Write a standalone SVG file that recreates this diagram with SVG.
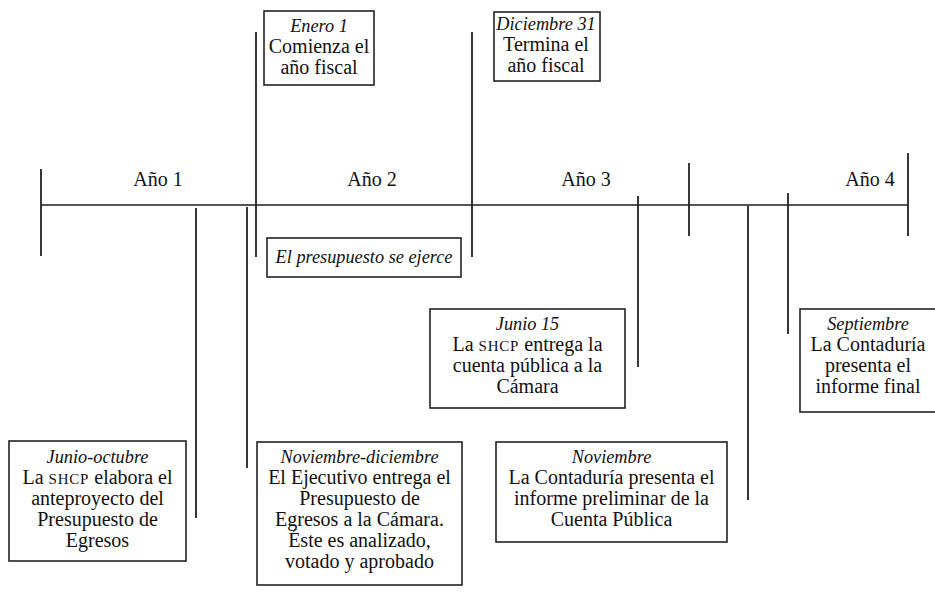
<svg xmlns="http://www.w3.org/2000/svg" width="935" height="598" viewBox="0 0 935 598">
<style>
text{font-family:"Liberation Serif","Times New Roman",serif;font-size:20px;fill:#111;text-anchor:middle}
.i{font-style:italic;font-size:18.3px}
.sc{font-size:15px;letter-spacing:0.8px}
rect{fill:#fff;stroke:#222;stroke-width:1.6}
line{stroke:#222;stroke-width:1.8}
</style>
<rect x="0" y="0" width="935" height="598" style="stroke:none;fill:#fff"/>
<g id="connectors">
<line x1="41" y1="205" x2="908" y2="205" style="stroke:#555;stroke-width:2"/>
<line x1="41" y1="169" x2="41" y2="256"/>
<line x1="196" y1="208" x2="196" y2="518"/>
<line x1="247" y1="207" x2="247" y2="468"/>
<line x1="256" y1="32" x2="256" y2="257"/>
<line x1="472" y1="32" x2="472" y2="257"/>
<line x1="638" y1="196" x2="638" y2="367"/>
<line x1="689" y1="163" x2="689" y2="236"/>
<line x1="748" y1="206" x2="748" y2="500"/>
<line x1="788" y1="193" x2="788" y2="334"/>
<line x1="908" y1="153" x2="908" y2="236"/>
</g>
<g id="labels">
<text x="158" y="186">Año 1</text>
<text x="372" y="186">Año 2</text>
<text x="586" y="186">Año 3</text>
<text x="870" y="186">Año 4</text>
</g>
<g id="enero">
<rect x="264" y="11" width="110" height="74"/>
<text x="319" y="32" class="i">Enero 1</text>
<text x="319" y="53">Comienza el</text>
<text x="319" y="74">año fiscal</text>
</g>
<g id="diciembre">
<rect x="494" y="12" width="106" height="69"/>
<text x="546" y="30" class="i">Diciembre 31</text>
<text x="546" y="51">Termina el</text>
<text x="546" y="72">año fiscal</text>
</g>
<g id="ejerce">
<rect x="267" y="238" width="194" height="39"/>
<text x="364" y="263" class="i">El presupuesto se ejerce</text>
</g>
<g id="junio-octubre">
<rect x="9" y="441" width="177" height="120"/>
<text x="97.5" y="463" class="i">Junio-octubre</text>
<text x="97.5" y="484">La <tspan class="sc">SHCP</tspan> elabora el</text>
<text x="97.5" y="505">anteproyecto del</text>
<text x="97.5" y="526">Presupuesto de</text>
<text x="97.5" y="547">Egresos</text>
</g>
<g id="noviembre-diciembre">
<rect x="257" y="442" width="205" height="143"/>
<text x="359.5" y="463" class="i">Noviembre-diciembre</text>
<text x="359.5" y="484">El Ejecutivo entrega el</text>
<text x="359.5" y="505">Presupuesto de</text>
<text x="359.5" y="526">Egresos a la Cámara.</text>
<text x="359.5" y="547">Éste es analizado,</text>
<text x="359.5" y="568">votado y aprobado</text>
</g>
<g id="junio15">
<rect x="430" y="309" width="195" height="99"/>
<text x="527.5" y="330" class="i">Junio 15</text>
<text x="527.5" y="351">La <tspan class="sc">SHCP</tspan> entrega la</text>
<text x="527.5" y="372">cuenta pública a la</text>
<text x="527.5" y="393">Cámara</text>
</g>
<g id="noviembre">
<rect x="496" y="442" width="231" height="100"/>
<text x="611.5" y="463" class="i">Noviembre</text>
<text x="611.5" y="484">La Contaduría presenta el</text>
<text x="611.5" y="505">informe preliminar de la</text>
<text x="611.5" y="526">Cuenta Pública</text>
</g>
<g id="septiembre">
<rect x="800" y="309" width="140" height="103"/>
<text x="868" y="330" class="i">Septiembre</text>
<text x="868" y="351">La Contaduría</text>
<text x="868" y="372">presenta el</text>
<text x="868" y="393">informe final</text>
</g>
</svg>
